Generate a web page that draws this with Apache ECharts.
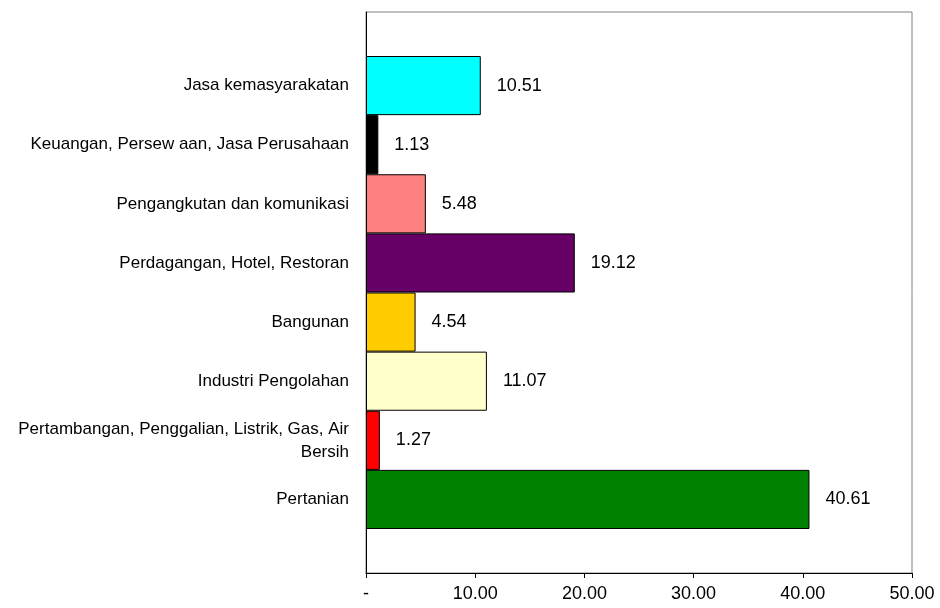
<!DOCTYPE html>
<html>
<head>
<meta charset="utf-8">
<script src="https://cdn.jsdelivr.net/npm/echarts@6/dist/echarts.min.js"></script>
<style>html,body{margin:0;padding:0;background:#fff;}#c{width:940px;height:608px;}</style>
</head>
<body>
<div id="c"></div>
<script>
// Categories listed bottom to top (ECharts category axis order)
var categories = [
  'Pertanian',
  'Pertambangan, Penggalian, Listrik, Gas, Air\nBersih',
  'Industri Pengolahan',
  'Bangunan',
  'Perdagangan, Hotel, Restoran',
  'Pengangkutan dan komunikasi',
  'Keuangan, Persew aan, Jasa Perusahaan',
  'Jasa kemasyarakatan'
];
var values = [40.61, 1.27, 11.07, 4.54, 19.12, 5.48, 1.13, 10.51];
var barColors = ['#008000', '#FF0000', '#FFFFCC', '#FFCC00', '#660066', '#FF8080', '#000000', '#00FFFF'];
var xTicks = [0, 10, 20, 30, 40, 50];

var FONT = '"Liberation Sans", Arial, sans-serif';
var chart = echarts.init(document.getElementById('c'), null, {renderer: 'canvas'});
chart.setOption({
  animation: false,
  backgroundColor: '#ffffff',
  grid: [
    {left: 366, right: 28, top: 12, bottom: 35, show: true, borderColor: '#808080', borderWidth: 1, backgroundColor: 'transparent'},
    {left: 366, right: 28, top: 56, bottom: 79}
  ],
  xAxis: [
    {
      gridIndex: 0, type: 'value', min: xTicks[0], max: xTicks[xTicks.length - 1], interval: 10,
      axisLine: {show: true, lineStyle: {color: '#000000', width: 1}},
      axisTick: {show: true, length: 5, lineStyle: {color: '#000000'}},
      axisLabel: {
        fontFamily: FONT, fontSize: 18, color: '#000000', margin: 12,
        formatter: function (v) { return v === 0 ? '-' : v.toFixed(2); }
      },
      splitLine: {show: false}
    },
    {
      gridIndex: 1, type: 'value', min: xTicks[0], max: xTicks[xTicks.length - 1],
      show: false
    }
  ],
  yAxis: [
    {
      gridIndex: 0, type: 'value', min: 0, max: 1,
      axisLine: {show: true, lineStyle: {color: '#000000', width: 1}},
      axisTick: {show: false}, axisLabel: {show: false}, splitLine: {show: false}
    },
    {
      gridIndex: 1, type: 'category', data: categories,
      axisLine: {show: false}, axisTick: {show: false}, splitLine: {show: false},
      axisLabel: {fontFamily: FONT, fontSize: 17, color: '#000000', margin: 17, align: 'right', lineHeight: 23}
    }
  ],
  series: [{
    type: 'bar',
    xAxisIndex: 1, yAxisIndex: 1,
    barWidth: '100%',
    data: values.map(function (v, i) {
      return {value: v, itemStyle: {color: barColors[i]}};
    }),
    itemStyle: {borderColor: '#000000', borderWidth: 1},
    label: {
      show: true, position: 'right', distance: 16,
      fontFamily: FONT, fontSize: 18, color: '#000000',
      formatter: function (p) { return p.value.toFixed(2); }
    }
  }]
});
</script>
</body>
</html>
